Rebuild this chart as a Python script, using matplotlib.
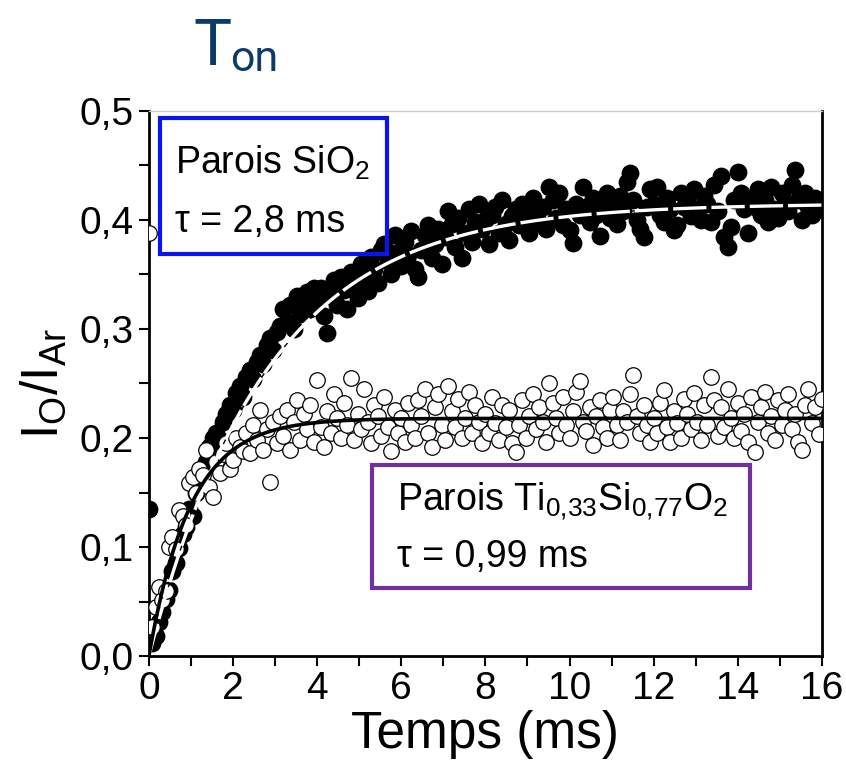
import numpy as np
import matplotlib
matplotlib.use("Agg")
import matplotlib.pyplot as plt
from matplotlib.patches import Rectangle
from matplotlib.ticker import MultipleLocator, FuncFormatter

plt.rcParams['font.family'] = ['Liberation Sans', 'DejaVu Sans']
plt.rcParams['mathtext.fontset'] = 'custom'
plt.rcParams['mathtext.rm'] = 'Liberation Sans'
plt.rcParams['mathtext.it'] = 'Liberation Sans:italic'

# time step of the acquisition (ms)
dt = 0.08

# parois SiO2 (filled dots)
sio2_y = [
    0.135, 0.012, 0.018, 0.031, 0.040, 0.052, 0.061, 0.078, 0.085, 0.099,
    0.112, 0.118, 0.135, 0.128, 0.150, 0.158, 0.170, 0.178, 0.192, 0.200,
    0.205, 0.198, 0.215, 0.222, 0.230, 0.226, 0.241, 0.248, 0.238, 0.256,
    0.262, 0.254, 0.270, 0.276, 0.268, 0.285, 0.292, 0.281, 0.297, 0.303,
    0.318, 0.306, 0.322, 0.300, 0.330, 0.314, 0.326, 0.334, 0.318, 0.338,
    0.325, 0.338, 0.312, 0.296, 0.330, 0.345, 0.322, 0.348, 0.336, 0.318,
    0.352, 0.340, 0.328, 0.360, 0.347, 0.335, 0.366, 0.355, 0.342, 0.372,
    0.378, 0.362, 0.350, 0.386, 0.371, 0.358, 0.380, 0.368, 0.390, 0.355,
    0.348, 0.372, 0.386, 0.395, 0.365, 0.378, 0.392, 0.360, 0.384, 0.408,
    0.396, 0.375, 0.402, 0.365, 0.388, 0.410, 0.380, 0.398, 0.415, 0.392,
    0.400, 0.378, 0.405, 0.412, 0.388, 0.418, 0.396, 0.382, 0.404, 0.410,
    0.395, 0.415, 0.402, 0.388, 0.420, 0.408, 0.398, 0.412, 0.392, 0.430,
    0.418, 0.402, 0.425, 0.395, 0.410, 0.391, 0.379, 0.415, 0.405, 0.430,
    0.412, 0.398, 0.420, 0.405, 0.385, 0.415, 0.425, 0.402, 0.410, 0.396,
    0.422, 0.408, 0.435, 0.443, 0.418, 0.400, 0.392, 0.384, 0.412, 0.428,
    0.415, 0.430, 0.405, 0.398, 0.420, 0.410, 0.391, 0.395, 0.425, 0.412,
    0.418, 0.404, 0.428, 0.410, 0.400, 0.422, 0.415, 0.398, 0.432, 0.408,
    0.440, 0.384, 0.375, 0.394, 0.418, 0.444, 0.425, 0.410, 0.388, 0.420,
    0.412, 0.428, 0.405, 0.418, 0.398, 0.430, 0.410, 0.402, 0.425, 0.415,
    0.408, 0.432, 0.446, 0.418, 0.400, 0.425, 0.412, 0.405, 0.420, 0.410,
    0.415,
]

# parois Ti0,33Si0,77O2 (open circles)
ti_y = [
    0.388, 0.027, 0.045, 0.063, 0.051, 0.060, 0.100, 0.109, 0.098, 0.134,
    0.128, 0.120, 0.159, 0.164, 0.150, 0.172, 0.166, 0.189, 0.155, 0.146,
    0.178, 0.168, 0.185, 0.195, 0.172, 0.180, 0.200, 0.192, 0.188, 0.205,
    0.186, 0.212, 0.198, 0.226, 0.189, 0.208, 0.160, 0.215, 0.195, 0.220,
    0.202, 0.226, 0.189, 0.215, 0.235, 0.198, 0.222, 0.208, 0.230, 0.196,
    0.253, 0.210, 0.192, 0.225, 0.205, 0.240, 0.218, 0.200, 0.232, 0.212,
    0.255, 0.198, 0.222, 0.208, 0.245, 0.215, 0.195, 0.230, 0.220, 0.202,
    0.238, 0.210, 0.188, 0.226, 0.205, 0.218, 0.196, 0.232, 0.212, 0.200,
    0.235, 0.220, 0.245, 0.205, 0.192, 0.228, 0.240, 0.212, 0.198, 0.248,
    0.225, 0.210, 0.236, 0.200, 0.218, 0.242, 0.205, 0.230, 0.215, 0.195,
    0.222, 0.205, 0.238, 0.214, 0.198, 0.230, 0.210, 0.226, 0.195, 0.187,
    0.212, 0.235, 0.200, 0.220, 0.240, 0.208, 0.228, 0.215, 0.196, 0.250,
    0.232, 0.218, 0.205, 0.238, 0.212, 0.200, 0.225, 0.242, 0.252, 0.215,
    0.206, 0.228, 0.194, 0.220, 0.235, 0.210, 0.200, 0.226, 0.238, 0.212,
    0.198, 0.225, 0.215, 0.240, 0.258, 0.220, 0.205, 0.230, 0.212, 0.196,
    0.218, 0.205, 0.232, 0.244, 0.210, 0.196, 0.225, 0.214, 0.200, 0.236,
    0.222, 0.208, 0.241, 0.215, 0.198, 0.230, 0.212, 0.256, 0.235, 0.202,
    0.228, 0.210, 0.245, 0.218, 0.200, 0.232, 0.206, 0.222, 0.196, 0.238,
    0.187, 0.215, 0.228, 0.242, 0.205, 0.220, 0.198, 0.235, 0.212, 0.226,
    0.240, 0.208, 0.222, 0.196, 0.189, 0.230, 0.245, 0.214, 0.228, 0.204,
    0.236,
]

# exponential fit parameters
amp_sio2, tau_sio2 = 0.415, 2.8
amp_ti, tau_ti = 0.218, 0.99

temps = np.arange(len(sio2_y)) * dt
t_fit = np.linspace(0, 16, 400)
fit_sio2 = amp_sio2 * (1 - np.exp(-t_fit / tau_sio2))
fit_ti = amp_ti * (1 - np.exp(-t_fit / tau_ti))

fig = plt.figure(figsize=(8.46, 7.77), dpi=100)
ax = fig.add_axes([0.176, 0.1557, 0.7955, 0.7015])

ax.scatter(temps, sio2_y, s=140, color='black', zorder=2)
ax.scatter(temps, ti_y, s=125, facecolor='white', edgecolor='black',
           linewidth=0.9, zorder=3)
ax.plot(t_fit, fit_sio2, color='black', lw=1.0, zorder=4)
ax.plot(t_fit, fit_sio2, color='white', lw=2.4, dashes=(10, 1.5), zorder=4)
ax.plot(t_fit, fit_ti, color='black', lw=2.6, zorder=5)

ax.set_xlim(0, 16)
ax.set_ylim(0, 0.5)
ax.xaxis.set_major_locator(MultipleLocator(2))
ax.xaxis.set_minor_locator(MultipleLocator(1))
ax.yaxis.set_major_locator(MultipleLocator(0.1))
ax.yaxis.set_minor_locator(MultipleLocator(0.05))
ax.yaxis.set_major_formatter(FuncFormatter(lambda v, p: f"{v:.1f}".replace('.', ',')))
ax.xaxis.set_major_formatter(FuncFormatter(lambda v, p: f"{v:.0f}"))
ax.tick_params(which='both', direction='out', length=7, width=1.5, top=False, right=False)
ax.tick_params(labelsize=28, pad=4)

for side in ['left', 'bottom', 'right']:
    ax.spines[side].set_linewidth(2)
ax.spines['top'].set_color('#cccccc')
ax.spines['top'].set_linewidth(1)

ax.set_xlabel('Temps (ms)', fontsize=37, labelpad=2)
ax.set_ylabel(r'$\mathregular{I_O/I_{Ar}}$', fontsize=37, labelpad=8)

# annotation boxes
ax.add_patch(Rectangle((0.016, 0.738), 0.338, 0.249, transform=ax.transAxes,
                       fill=False, edgecolor='#0a14f0', lw=3, zorder=6))
ax.text(0.039, 0.905, r'Parois SiO$_2$', transform=ax.transAxes,
        fontsize=27, va='center', ha='left', zorder=7)
ax.text(0.039, 0.796, 'τ = 2,8 ms', transform=ax.transAxes,
        fontsize=27, va='center', ha='left', zorder=7)

ax.add_patch(Rectangle((0.331, 0.125), 0.562, 0.225, transform=ax.transAxes,
                       fill=False, edgecolor='#7030a0', lw=3, zorder=6))
ax.text(0.369, 0.285, r'Parois Ti$_{0{,}33}$Si$_{0{,}77}$O$_2$', transform=ax.transAxes,
        fontsize=27, va='center', ha='left', zorder=7)
ax.text(0.369, 0.182, 'τ = 0,99 ms', transform=ax.transAxes,
        fontsize=27, va='center', ha='left', zorder=7)

# title
title_font = ['Liberation Sans Narrow', 'Roboto', 'DejaVu Sans']
fig.text(0.229, 0.916, 'T', color='#0b3a6b', fontsize=46, family=title_font,
         ha='left', va='baseline')
fig.text(0.272, 0.908, 'on', color='#0b3a6b', fontsize=31, family=title_font,
         ha='left', va='baseline')

fig.savefig('out.png', dpi=100)
